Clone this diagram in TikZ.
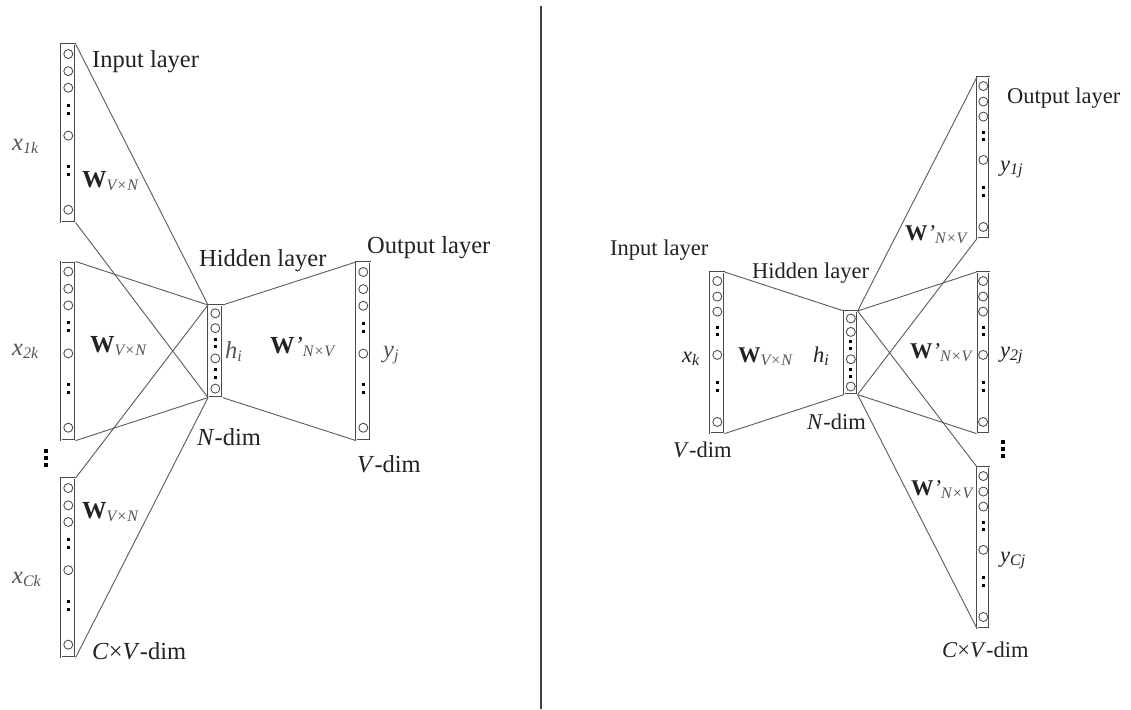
\documentclass[tikz,border=0pt]{standalone}
\usepackage{fontspec}
\setmainfont{Liberation Serif}
\usetikzlibrary{calc}
\definecolor{txt}{HTML}{222222}
\definecolor{subc}{HTML}{555555}
\definecolor{ln}{HTML}{5A5A5A}
\definecolor{bx}{HTML}{4A4A4A}
\newcommand\sbs[1]{\raisebox{-0.35ex}{\fontsize{16}{16}\selectfont\itshape #1}}
\newcommand\Wm[1]{\textbf{W}\sbs{\color{subc}#1}}
\newcommand\Wp[1]{\textbf{W}{\itshape\textquoteright}\sbs{\color{subc}#1}}
\newcommand\tallcol[5]{%
  \node[lbox, minimum width=#4pt, minimum height=#5pt, anchor=north west] (#1) at (#2,#3) {};
  \foreach \f in {0.056,0.152,0.245,0.513,0.928}
    \node[unit] at ($(#1.north)!\f!(#1.south)$) {};
  \foreach \f in {0.343,0.388,0.685,0.733}
    \node[dotsq] at ($(#1.north)!\f!(#1.south)$) {};
}
\newcommand\hidcol[5]{%
  \node[lbox, minimum width=#4pt, minimum height=#5pt, anchor=north west] (#1) at (#2,#3) {};
  \foreach \f in {0.09,0.25,0.577,0.903}
    \node[unit] at ($(#1.north)!\f!(#1.south)$) {};
  \foreach \f in {0.37,0.45,0.70,0.78}
    \node[dotsq] at ($(#1.north)!\f!(#1.south)$) {};
}
\begin{document}
\begin{tikzpicture}[x=1pt,y=-1pt,
  lbox/.style={draw=bx, line width=0.6pt, double=white, double distance=1.1pt, inner sep=0pt},
  unit/.style={circle, draw=bx, line width=0.85pt, inner sep=0pt, minimum size=9pt},
  dotsq/.style={rectangle, fill=black, inner sep=0pt, minimum size=3pt},
  link/.style={draw=ln, line width=0.9pt},
  lab/.style={text=txt, inner sep=0pt, anchor=base west, font=\fontsize{24.5}{24.5}\selectfont},
  labr/.style={text=txt, inner sep=0pt, anchor=base west, font=\fontsize{22.5}{22.5}\selectfont},
  vdot/.style={rectangle, fill=black, inner sep=0pt, minimum size=3.4pt}]
\useasboundingbox (0,0) rectangle (1131,709);
\fill[white] (0,0) rectangle (1131,709);

% separator
\draw[black!75, line width=1.3pt] (541,6) -- (541,709);

% ---------------- left: CBOW ----------------
\tallcol{in1}{61}{44}{14}{178}
\tallcol{in2}{61}{261.5}{14}{178.5}
\tallcol{in3}{61}{478}{14}{179}
\hidcol{hidL}{208}{305}{14}{92}
\tallcol{outL}{356}{262}{14}{178}

\foreach \b in {in1,in2,in3}{
  \draw[link] (\b.north east) -- (hidL.north west);
  \draw[link] (\b.south east) -- (hidL.south west);
}
\draw[link] (hidL.north east) -- (outL.north west);
\draw[link] (hidL.south east) -- (outL.south west);

\foreach \y [count=\i] in {451,458,465}
  \node[vdot] (vdl\i) at (46,\y) {};

\node[lab] (tIn) at (92,67) {Input layer};
\node[lab] (tHid) at (199,266) {Hidden layer};
\node[lab] (tOut) at (367,253) {Output layer};
\node[lab] (tN) at (197,445) {\textit{N}-dim};
\node[lab] (tV) at (357,472) {\textit{V}-dim};
\node[lab] (tCV) at (92,659) {\textit{C}×\textit{V}-dim};
\node[lab, text=subc] (x1) at (12,150) {\textit{x}\sbs{1k}};
\node[lab, text=subc] (x2) at (12,355) {\textit{x}\sbs{2k}};
\node[lab, text=subc] (x3) at (12,583) {\textit{x}\sbs{Ck}};
\node[lab] (w1) at (82,187) {\Wm{V×N}};
\node[lab] (w2) at (90,352) {\Wm{V×N}};
\node[lab] (w3) at (82,518) {\Wm{V×N}};
\node[lab, text=subc] (hL) at (225,358) {\textit{h}\sbs{i}};
\node[lab] (wpL) at (270,353) {\Wp{N×V}};
\node[lab, text=subc] (yL) at (383,357) {\textit{y}\sbs{j}};

% ---------------- right: skip-gram ----------------
\tallcol{inR}{710}{272}{14}{161}
\hidcol{hidR}{844}{311}{13}{83}
\tallcol{o1}{977}{77}{12}{161}
\tallcol{o2}{976.5}{272}{12.5}{161}
\tallcol{o3}{977}{467}{12}{161}

\draw[link] (inR.north east) -- (hidR.north west);
\draw[link] (inR.south east) -- (hidR.south west);
\foreach \b in {o1,o2,o3}{
  \draw[link] (hidR.north east) -- (\b.north west);
  \draw[link] (hidR.south east) -- (\b.south west);
}

\foreach \y [count=\i] in {442,449,456}
  \node[vdot] (vdr\i) at (1003,\y) {};

\node[labr] (rIn) at (610,255) {Input layer};
\node[labr] (rHid) at (752,278) {Hidden layer};
\node[labr] (rOut) at (1007,103) {Output layer};
\node[labr] (rN) at (807,429) {\textit{N}-dim};
\node[labr] (rV) at (673,457) {\textit{V}-dim};
\node[labr] (rCV) at (942,657) {\textit{C}×\textit{V}-dim};
\node[labr] (xk) at (682,362) {\textit{x}\sbs{k}};
\node[labr] (wR) at (738,362) {\Wm{V×N}};
\node[labr] (hR) at (813,362) {\textit{h}\sbs{i}};
\node[labr] (y1) at (1000,171) {\textit{y}\sbs{1j}};
\node[labr] (y2) at (1000,357) {\textit{y}\sbs{2j}};
\node[labr] (y3) at (1000,562) {\textit{y}\sbs{Cj}};
\node[labr] (wp1) at (905,240) {\Wp{N×V}};
\node[labr] (wp2) at (910,358) {\Wp{N×V}};
\node[labr] (wp3) at (911,495) {\Wp{N×V}};
\end{tikzpicture}
\end{document}
